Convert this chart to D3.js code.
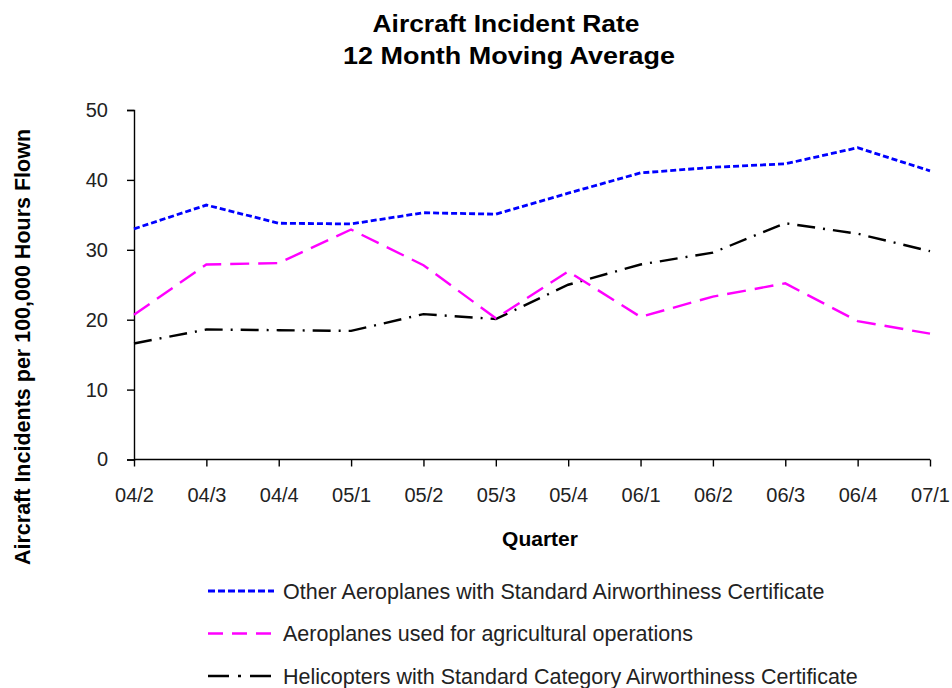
<!DOCTYPE html>
<html>
<head>
<meta charset="utf-8">
<script src="https://cdn.jsdelivr.net/npm/d3@7"></script>
<style>
  html, body { margin: 0; padding: 0; background: #fff; }
  svg { display: block; font-family: "Liberation Sans", Arial, sans-serif; }
</style>
</head>
<body>
<svg id="chart" width="952" height="688"></svg>
<script>
// Quarters (YY/Q) and 12‑month moving average incident rates
const quarters = ["04/2","04/3","04/4","05/1","05/2","05/3","05/4","06/1","06/2","06/3","06/4","07/1"];
const otherAeroplanes = [33.0, 36.4, 33.8, 33.7, 35.3, 35.1, 38.1, 41.0, 41.8, 42.3, 44.6, 41.3];
const agricultural    = [20.7, 27.9, 28.1, 32.9, 27.8, 20.2, 26.9, 20.4, 23.3, 25.2, 19.8, 18.0];
const helicopters     = [16.6, 18.6, 18.5, 18.4, 20.8, 20.1, 25.0, 27.9, 29.6, 33.8, 32.3, 29.8];
const yTicks = [0, 10, 20, 30, 40, 50];
const seriesNames = [
  "Other Aeroplanes with Standard Airworthiness Certificate",
  "Aeroplanes used for agricultural operations",
  "Helicopters with Standard Category Airworthiness Certificate"
];

const series = [
  { name: seriesNames[0], values: otherAeroplanes, color: "#0000ff", width: 2.8, dash: "6,3",        key: "7,3" },
  { name: seriesNames[1], values: agricultural,    color: "#ff00ff", width: 2.4, dash: "19,9",       key: "15,9" },
  { name: seriesNames[2], values: helicopters,     color: "#000000", width: 2.4, dash: "18,8,2,8",   key: "21,9,3,9" }
];

const svg = d3.select("#chart");
const plotLeft = 134, plotRight = 930, plotTop = 110, plotBottom = 459.5;

const x = d3.scalePoint().domain(quarters).range([plotLeft, plotRight]);
const y = d3.scaleLinear().domain([0, 50]).range([plotBottom, plotTop]);

// Title (two centred lines, slightly widened)
const titleLines = [
  { text: "Aircraft Incident Rate",   y: 32, cx: 506, width: 267 },
  { text: "12 Month Moving Average",  y: 64, cx: 509, width: 332 }
];
svg.append("g").selectAll("text")
  .data(titleLines)
  .join("text")
  .attr("x", d => d.cx - d.width / 2)
  .attr("y", d => d.y)
  .attr("textLength", d => d.width)
  .attr("lengthAdjust", "spacingAndGlyphs")
  .attr("font-weight", "bold").attr("font-size", 23).attr("fill", "#000")
  .text(d => d.text);

// Y axis
const yAxis = svg.append("g")
  .attr("transform", `translate(${plotLeft},0)`)
  .call(d3.axisLeft(y).tickValues(yTicks).tickSize(7).tickPadding(19).tickFormat(d3.format("d")));
yAxis.select(".domain").attr("stroke", "#000").attr("stroke-width", 1.4);
yAxis.selectAll(".tick line").attr("stroke", "#000").attr("stroke-width", 1.4);
yAxis.selectAll(".tick text").attr("font-size", 20).attr("fill", "#222")
  .attr("font-family", "'Liberation Sans', Arial, sans-serif");

// X axis
const xAxis = svg.append("g")
  .attr("transform", `translate(0,${plotBottom})`)
  .call(d3.axisBottom(x).tickSize(7).tickPadding(21));
xAxis.select(".domain").attr("stroke", "#000").attr("stroke-width", 1.4)
  .attr("d", `M${plotLeft},0H${plotRight}`);
xAxis.selectAll(".tick line").attr("stroke", "#000").attr("stroke-width", 1.4);
xAxis.selectAll(".tick text").attr("font-size", 20).attr("fill", "#222")
  .attr("font-family", "'Liberation Sans', Arial, sans-serif");

// Axis titles
svg.append("text")
  .attr("x", 540).attr("y", 546).attr("text-anchor", "middle")
  .attr("font-weight", "bold").attr("font-size", 21).text("Quarter");
svg.append("text")
  .attr("transform", "translate(30,347) rotate(-90)")
  .attr("text-anchor", "middle")
  .attr("font-weight", "bold").attr("font-size", 21.5)
  .text("Aircraft Incidents per 100,000 Hours Flown");

// Lines
const line = d3.line()
  .x((d, i) => x(quarters[i]))
  .y(d => y(d));

svg.append("g").selectAll("path")
  .data(series.slice().reverse())
  .join("path")
  .attr("d", s => line(s.values))
  .attr("fill", "none")
  .attr("stroke", s => s.color)
  .attr("stroke-width", s => s.width)
  .attr("stroke-dasharray", s => s.dash);

// Legend
const rows = svg.append("g").selectAll("g")
  .data(series)
  .join("g")
  .attr("transform", (s, i) => `translate(208,${591 + i * 42.5})`);
rows.append("line")
  .attr("x1", 0).attr("x2", 66).attr("y1", 0).attr("y2", 0)
  .attr("stroke", s => s.color)
  .attr("stroke-width", s => s.width)
  .attr("stroke-dasharray", s => s.key);
rows.append("text")
  .attr("x", 75).attr("y", 7.5)
  .attr("font-size", 21.5).attr("fill", "#222")
  .text(s => s.name);
</script>
</body>
</html>
